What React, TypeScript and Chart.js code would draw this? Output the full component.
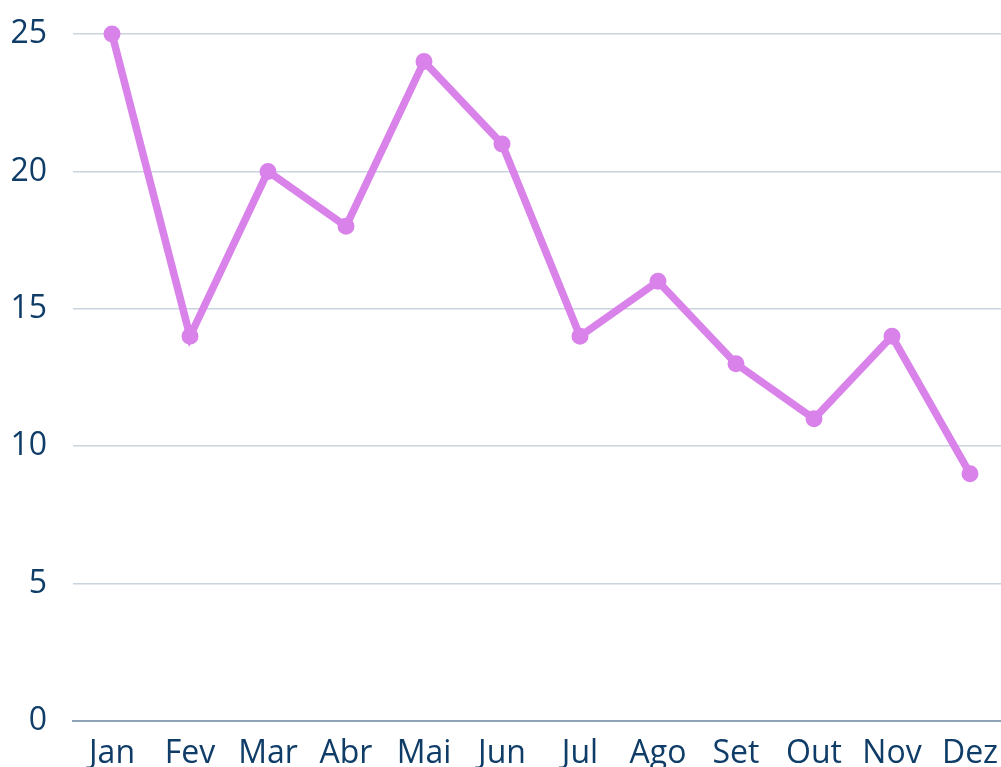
import React, { useEffect, useRef } from "react";
import { Chart, registerables } from "chart.js";

Chart.register(...registerables);

const categories = ["Jan", "Fev", "Mar", "Abr", "Mai", "Jun", "Jul", "Ago", "Set", "Out", "Nov", "Dez"];
const seriesValues = [25, 14, 20, 18, 24, 21, 14, 16, 13, 11, 14, 9];
const yTicks = [0, 5, 10, 15, 20, 25];

export default function App() {
  const ref = useRef<HTMLCanvasElement | null>(null);

  useEffect(() => {
    if (!ref.current) return;
    const chart = new Chart(ref.current, {
      type: "line",
      data: {
        labels: categories,
        datasets: [
          {
            data: seriesValues,
            borderColor: "#d882ea",
            backgroundColor: "#d882ea",
            borderWidth: 7.5,
            pointRadius: 7.5,
            pointBorderWidth: 2,
            pointBackgroundColor: "#d882ea",
            pointBorderColor: "#d882ea",
            tension: 0,
            clip: false,
          },
        ],
      },
      options: {
        animation: false,
        responsive: false,
        layout: { padding: 0, autoPadding: false },
        plugins: { legend: { display: false }, tooltip: { enabled: false } },
        scales: {
          x: {
            offset: true,
            grid: { display: false, drawTicks: false },
            border: { display: true, color: "#8fa3b8", width: 2 },
            ticks: {
              color: "#0f3d68",
              font: { family: "'Open Sans'", size: 32 },
              padding: 14,
              maxRotation: 0,
              autoSkip: false,
            },
            afterFit: (axis: any) => {
              axis.height = 46;
              axis.paddingLeft = 0;
              axis.paddingRight = 0;
            },
          },
          y: {
            min: 0,
            max: 25,
            afterBuildTicks: (axis: any) => {
              axis.ticks = yTicks.map((v) => ({ value: v }));
            },
            grid: { color: "#c9d4df", lineWidth: 1.5, drawTicks: false },
            border: { display: false },
            ticks: {
              color: "#0f3d68",
              font: { family: "'Open Sans'", size: 32 },
              padding: 26,
            },
            afterFit: (axis: any) => {
              axis.width = 73;
              axis.paddingTop = 34;
              axis.paddingBottom = 0;
            },
          },
        },
      },
    });
    return () => chart.destroy();
  }, []);

  return (
    <div style={{ position: "fixed", left: 0, top: 0, width: 1001, height: 767, overflow: "hidden" }}>
      <div style={{ width: 1009, height: 767 }}>
        <canvas ref={ref} width={1009} height={767} style={{ display: "block", width: 1009, height: 767 }} />
      </div>
    </div>
  );
}
